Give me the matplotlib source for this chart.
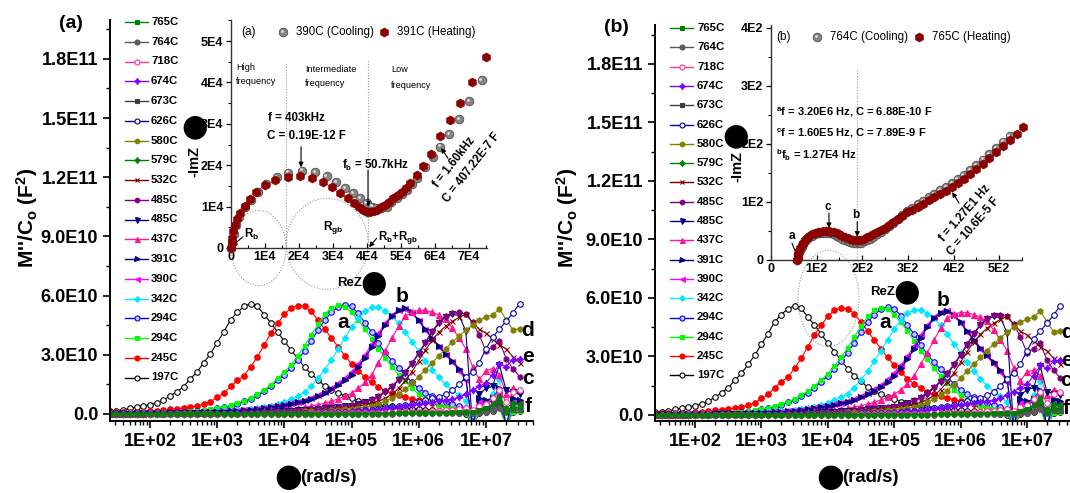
import numpy as np
import matplotlib
matplotlib.use("Agg")
import matplotlib.pyplot as plt
from matplotlib.patches import Ellipse
from matplotlib.lines import Line2D
from matplotlib.transforms import offset_copy
from matplotlib.font_manager import FontProperties, findfont
from matplotlib.ticker import FixedLocator, LogLocator, NullFormatter


def font_ok(name):
    try:
        findfont(FontProperties(family=name), fallback_to_default=False)
        return True
    except Exception:
        return False


HAS_NARROW = font_ok("Liberation Sans Narrow")
BASE = ["Liberation Sans", "DejaVu Sans"]
NARROW = (["Liberation Sans Narrow"] if HAS_NARROW else []) + BASE
NK = 1.0 if HAS_NARROW else 0.84
plt.rcParams["font.family"] = BASE
plt.rcParams["mathtext.default"] = "regular"

# ---------------- data: main plot (M''/Co in units of 1E10 vs log10 omega) -------------
log_w = [1.4, 1.5, 1.6, 1.7, 1.8, 1.9,
         2.0, 2.1, 2.2, 2.3, 2.4, 2.5, 2.6, 2.7, 2.8, 2.9,
         3.0, 3.1, 3.2, 3.3, 3.4, 3.5, 3.6, 3.7, 3.8, 3.9,
         4.0, 4.1, 4.2, 4.3, 4.4, 4.5, 4.6, 4.7, 4.8, 4.9,
         5.0, 5.1, 5.2, 5.3, 5.4, 5.5, 5.6, 5.7, 5.8, 5.9,
         6.0, 6.1, 6.2, 6.3, 6.4, 6.5, 6.6, 6.7, 6.8, 6.9,
         7.0, 7.1, 7.2, 7.3, 7.4, 7.5]

m197 = [0.15, 0.17, 0.22, 0.28, 0.35, 0.42,
        0.48, 0.56, 0.70, 0.92, 1.12, 1.39, 1.78, 2.13, 2.60, 3.05,
        3.62, 4.17, 4.78, 5.15, 5.45, 5.60, 5.46, 5.03, 4.61, 4.15,
        3.68, 3.25, 2.80, 2.37, 2.02, 1.73, 1.42, 1.22, 1.05, 0.92,
        0.80, 0.68, 0.60, 0.52, 0.46, 0.42, 0.38, 0.34, 0.30, 0.27,
        0.25, 0.22, 0.20, 0.17, 0.14, 0.10, 0.06, 0.02, -0.6, 0.05,
        0.10, 0.15, 0.40, -0.6, 0.10, 0.15]
m245 = [0.08, 0.08, 0.09, 0.10, 0.11, 0.12,
        0.14, 0.16, 0.19, 0.23, 0.27, 0.31, 0.36, 0.42, 0.50, 0.62,
        0.85, 1.05, 1.40, 1.70, 1.95, 2.40, 2.90, 3.50, 4.10, 4.60,
        5.05, 5.38, 5.48, 5.45, 5.20, 4.75, 4.30, 3.85, 3.40, 2.95,
        2.55, 2.20, 1.85, 1.60, 1.38, 1.18, 1.06, 0.95, 0.85, 0.78,
        0.70, 0.62, 0.54, 0.46, 0.38, 0.30, 0.20, 0.08, -0.6, 0.10,
        0.20, 0.30, 0.45, -0.6, 0.20, 0.30]
m294b = [0.03, 0.03, 0.04, 0.04, 0.05, 0.05,
         0.06, 0.06, 0.07, 0.08, 0.09, 0.10, 0.12, 0.14, 0.17, 0.21,
         0.28, 0.34, 0.42, 0.52, 0.64, 0.78, 0.95, 1.15, 1.40, 1.70,
         2.00, 2.35, 2.75, 3.20, 3.70, 4.25, 4.75, 5.15, 5.42, 5.54,
         5.45, 5.10, 4.60, 4.15, 3.60, 3.10, 2.70, 2.35, 1.95, 1.60,
         1.30, 1.08, 0.90, 0.75, 0.62, 0.50, 0.40, 0.30, -0.6, 0.15,
         0.25, 0.35, 0.60, -0.6, 0.25, 0.30]
m294g = [0.03, 0.03, 0.04, 0.04, 0.05, 0.05,
         0.06, 0.07, 0.08, 0.09, 0.10, 0.11, 0.13, 0.16, 0.19, 0.23,
         0.30, 0.36, 0.44, 0.55, 0.68, 0.82, 1.00, 1.22, 1.48, 1.80,
         2.12, 2.50, 2.95, 3.45, 4.00, 4.55, 5.05, 5.38, 5.50, 5.42,
         5.15, 4.75, 4.30, 3.80, 3.30, 2.85, 2.40, 2.00, 1.65, 1.30,
         1.00, 0.78, 0.60, 0.46, 0.36, 0.28, 0.20, 0.12, -0.6, 0.10,
         0.15, 0.20, 0.30, -0.6, 0.10, 0.15]
m342 = [0.02, 0.02, 0.02, 0.03, 0.03, 0.03,
        0.03, 0.04, 0.04, 0.05, 0.05, 0.06, 0.07, 0.08, 0.09, 0.10,
        0.12, 0.14, 0.16, 0.19, 0.22, 0.26, 0.30, 0.36, 0.43, 0.52,
        0.63, 0.75, 0.90, 1.10, 1.40, 1.80, 2.25, 2.75, 3.30, 3.85,
        4.40, 4.85, 5.22, 5.40, 5.40, 5.20, 4.95, 4.60, 4.15, 3.65,
        3.20, 2.70, 2.25, 1.85, 1.50, 1.20, 0.95, 0.65, -0.6, 0.30,
        0.50, 1.00, 1.75, -0.6, 0.40, 0.30]
m390 = [0.02, 0.02, 0.02, 0.02, 0.03, 0.03,
        0.03, 0.03, 0.04, 0.04, 0.05, 0.05, 0.06, 0.07, 0.08, 0.09,
        0.10, 0.12, 0.14, 0.16, 0.19, 0.22, 0.26, 0.30, 0.35, 0.40,
        0.47, 0.55, 0.63, 0.72, 0.83, 0.96, 1.12, 1.32, 1.55, 1.82,
        2.15, 2.55, 3.00, 3.55, 4.10, 4.62, 5.02, 5.28, 5.32, 5.10,
        4.70, 4.25, 3.80, 3.40, 3.00, 2.62, 2.20, 1.70, -0.6, 0.60,
        0.55, 0.65, 1.00, -0.6, 0.60, 0.50]
m391 = [0.02, 0.02, 0.02, 0.02, 0.03, 0.03,
        0.03, 0.03, 0.04, 0.04, 0.05, 0.05, 0.06, 0.07, 0.08, 0.09,
        0.10, 0.12, 0.14, 0.16, 0.19, 0.22, 0.26, 0.30, 0.35, 0.40,
        0.46, 0.53, 0.60, 0.68, 0.78, 0.90, 1.05, 1.25, 1.45, 1.70,
        2.00, 2.40, 2.85, 3.40, 3.95, 4.50, 4.95, 5.25, 5.35, 5.15,
        4.75, 4.30, 3.85, 3.45, 3.05, 2.70, 2.30, 1.85, -0.6, 0.80,
        0.70, 0.80, 1.30, -0.6, 0.80, 0.70]
m437 = [0.02, 0.02, 0.02, 0.02, 0.02, 0.02,
        0.03, 0.03, 0.03, 0.03, 0.04, 0.04, 0.04, 0.05, 0.05, 0.06,
        0.07, 0.08, 0.09, 0.10, 0.11, 0.12, 0.14, 0.16, 0.18, 0.20,
        0.22, 0.25, 0.29, 0.34, 0.40, 0.47, 0.55, 0.65, 0.77, 0.90,
        1.05, 1.30, 1.60, 2.00, 2.60, 3.20, 3.85, 4.45, 4.95, 5.18,
        5.25, 5.25, 5.15, 5.02, 4.80, 4.35, 3.85, 3.30, 2.40, 1.75,
        2.20, 2.30, 2.00, 1.00, 1.30, 1.20]
m485p = [0.02, 0.02, 0.02, 0.02, 0.02, 0.02,
         0.02, 0.02, 0.03, 0.03, 0.03, 0.03, 0.04, 0.04, 0.04, 0.05,
         0.05, 0.06, 0.06, 0.07, 0.08, 0.09, 0.10, 0.11, 0.12, 0.14,
         0.15, 0.17, 0.19, 0.21, 0.23, 0.26, 0.29, 0.32, 0.36, 0.40,
         0.45, 0.52, 0.62, 0.75, 0.92, 1.15, 1.42, 1.75, 2.15, 2.60,
         3.10, 3.65, 4.20, 4.65, 4.98, 5.12, 5.15, 5.05, 4.65, 4.00,
         3.20, 3.40, 3.70, 2.80, 2.30, 1.90]
m485n = [0.02, 0.02, 0.02, 0.02, 0.02, 0.02,
         0.02, 0.02, 0.02, 0.03, 0.03, 0.03, 0.03, 0.04, 0.04, 0.04,
         0.05, 0.05, 0.06, 0.06, 0.07, 0.08, 0.09, 0.10, 0.11, 0.13,
         0.14, 0.16, 0.18, 0.20, 0.22, 0.25, 0.28, 0.31, 0.34, 0.38,
         0.42, 0.50, 0.60, 0.72, 0.88, 1.10, 1.38, 1.70, 2.10, 2.55,
         3.05, 3.60, 4.15, 4.60, 4.92, 5.05, 5.00, 4.20, -0.6, 1.00,
         1.30, 1.40, 2.50, 1.20, 1.10, 1.00]
m532 = [0.02, 0.02, 0.02, 0.02, 0.02, 0.02,
        0.02, 0.02, 0.02, 0.03, 0.03, 0.03, 0.03, 0.04, 0.04, 0.04,
        0.05, 0.05, 0.06, 0.06, 0.07, 0.08, 0.08, 0.09, 0.10, 0.11,
        0.12, 0.13, 0.15, 0.16, 0.18, 0.20, 0.22, 0.25, 0.28, 0.31,
        0.35, 0.40, 0.46, 0.54, 0.65, 0.80, 1.00, 1.30, 1.70, 2.15,
        2.70, 3.25, 3.75, 4.15, 4.45, 4.70, 4.90, 5.05, 4.65, 4.30,
        4.10, 3.80, 3.50, 3.30, 2.90, 2.60]
m579 = [0.01, 0.01, 0.01, 0.01, 0.01, 0.01,
        0.01, 0.01, 0.01, 0.01, 0.01, 0.01, 0.01, 0.01, 0.01, 0.01,
        0.01, 0.01, 0.01, 0.01, 0.01, 0.01, 0.01, 0.01, 0.01, 0.01,
        0.02, 0.02, 0.02, 0.02, 0.02, 0.02, 0.02, 0.02, 0.02, 0.02,
        0.02, 0.02, 0.03, 0.03, 0.03, 0.03, 0.03, 0.04, 0.04, 0.04,
        0.05, 0.06, 0.07, 0.08, 0.09, 0.10, 0.12, 0.15, 0.10, 0.25,
        0.35, 0.45, 0.60, 0.30, 0.55, 0.50]
m580 = [0.02, 0.02, 0.02, 0.02, 0.02, 0.02,
        0.02, 0.02, 0.02, 0.02, 0.03, 0.03, 0.03, 0.03, 0.03, 0.04,
        0.04, 0.04, 0.05, 0.05, 0.06, 0.06, 0.07, 0.08, 0.08, 0.09,
        0.10, 0.11, 0.12, 0.13, 0.14, 0.16, 0.17, 0.19, 0.21, 0.23,
        0.26, 0.30, 0.35, 0.42, 0.52, 0.65, 0.82, 1.02, 1.25, 1.55,
        1.90, 2.25, 2.60, 2.95, 3.30, 3.65, 3.95, 4.25, 4.52, 4.75,
        4.92, 5.00, 5.34, 4.78, 4.27, 4.32]
m626 = [0.01, 0.01, 0.01, 0.01, 0.01, 0.01,
        0.01, 0.01, 0.01, 0.02, 0.02, 0.02, 0.02, 0.02, 0.02, 0.02,
        0.03, 0.03, 0.03, 0.03, 0.03, 0.04, 0.04, 0.04, 0.05, 0.05,
        0.05, 0.06, 0.06, 0.07, 0.07, 0.08, 0.08, 0.09, 0.10, 0.11,
        0.12, 0.15, 0.18, 0.22, 0.26, 0.30, 0.35, 0.40, 0.46, 0.52,
        0.60, 0.70, 0.80, 0.88, 1.00, 1.20, 1.50, 1.85, 2.15, 2.60,
        3.30, 3.90, 4.30, 4.70, 5.12, 5.60]
m673 = [0.01, 0.01, 0.01, 0.01, 0.01, 0.01,
        0.01, 0.01, 0.01, 0.01, 0.01, 0.01, 0.01, 0.01, 0.01, 0.01,
        0.01, 0.01, 0.01, 0.01, 0.01, 0.01, 0.01, 0.01, 0.01, 0.01,
        0.01, 0.01, 0.01, 0.01, 0.01, 0.01, 0.01, 0.01, 0.02, 0.02,
        0.02, 0.02, 0.02, 0.02, 0.02, 0.03, 0.03, 0.03, 0.03, 0.04,
        0.04, 0.05, 0.05, 0.06, 0.07, 0.08, 0.09, 0.10, 0.05, 0.12,
        0.15, 0.20, 0.40, 0.10, 0.20, 0.20]
m674 = [0.01, 0.01, 0.01, 0.01, 0.01, 0.01,
        0.01, 0.01, 0.01, 0.01, 0.01, 0.01, 0.02, 0.02, 0.02, 0.02,
        0.02, 0.02, 0.02, 0.03, 0.03, 0.03, 0.03, 0.04, 0.04, 0.04,
        0.05, 0.05, 0.06, 0.06, 0.07, 0.08, 0.09, 0.10, 0.11, 0.12,
        0.14, 0.16, 0.18, 0.20, 0.22, 0.25, 0.30, 0.35, 0.40, 0.45,
        0.50, 0.55, 0.60, 0.65, 0.70, 0.75, 0.85, 1.00, 1.20, 1.40,
        1.57, 2.00, 2.55, 2.40, 2.75, 2.80]
m718 = [0.01, 0.01, 0.01, 0.01, 0.01, 0.01,
        0.01, 0.01, 0.01, 0.01, 0.01, 0.01, 0.01, 0.01, 0.01, 0.01,
        0.01, 0.01, 0.01, 0.01, 0.01, 0.01, 0.02, 0.02, 0.02, 0.02,
        0.02, 0.02, 0.02, 0.02, 0.03, 0.03, 0.03, 0.03, 0.03, 0.04,
        0.04, 0.04, 0.05, 0.05, 0.06, 0.06, 0.07, 0.08, 0.09, 0.10,
        0.11, 0.12, 0.14, 0.16, 0.18, 0.20, 0.24, 0.30, 0.20, 0.40,
        0.50, 0.80, 1.20, 0.60, 1.10, 1.20]
m764 = [0.01, 0.01, 0.01, 0.01, 0.01, 0.01,
        0.01, 0.01, 0.01, 0.01, 0.01, 0.01, 0.01, 0.01, 0.01, 0.01,
        0.01, 0.01, 0.01, 0.01, 0.01, 0.01, 0.01, 0.01, 0.01, 0.01,
        0.01, 0.01, 0.01, 0.01, 0.01, 0.01, 0.01, 0.01, 0.01, 0.01,
        0.02, 0.02, 0.02, 0.02, 0.02, 0.02, 0.02, 0.03, 0.03, 0.03,
        0.03, 0.04, 0.04, 0.05, 0.05, 0.06, 0.07, 0.08, 0.04, 0.10,
        0.12, 0.18, 0.30, 0.10, 0.25, 0.25]
m765 = [0.01, 0.01, 0.01, 0.01, 0.01, 0.01,
        0.01, 0.01, 0.01, 0.01, 0.01, 0.01, 0.01, 0.01, 0.01, 0.01,
        0.01, 0.01, 0.01, 0.01, 0.01, 0.01, 0.01, 0.01, 0.01, 0.01,
        0.01, 0.01, 0.01, 0.01, 0.01, 0.01, 0.01, 0.01, 0.01, 0.02,
        0.02, 0.02, 0.02, 0.02, 0.02, 0.02, 0.03, 0.03, 0.03, 0.03,
        0.04, 0.04, 0.05, 0.06, 0.07, 0.08, 0.10, 0.12, 0.08, 0.20,
        0.30, 0.50, 0.85, 0.10, 0.30, 0.36]

y_ticks = [0, 3, 6, 9, 12, 15, 18]
y_tick_labels = ["0.0", "3.0E10", "6.0E10", "9.0E10", "1.2E11", "1.5E11", "1.8E11"]
x_ticks = [1e2, 1e3, 1e4, 1e5, 1e6, 1e7]
x_tick_labels = ["1E+02", "1E+03", "1E+04", "1E+05", "1E+06", "1E+07"]

# ---------------- data: inset (a) Nyquist, units of 1E4 ohm -------------
cool_a_re = [0.00, 0.03, 0.08, 0.15, 0.25, 0.40, 0.58, 0.78, 1.02, 1.34, 1.69, 2.08,
             2.47, 2.81, 3.10, 3.35, 3.60, 3.79, 3.99, 4.14, 4.25, 4.40, 4.58, 4.72,
             4.87, 5.02, 5.17, 5.32, 5.46, 5.70, 5.95, 6.15, 6.42, 6.70, 7.01, 7.37]
cool_a_im = [0.00, 0.15, 0.35, 0.55, 0.75, 0.98, 1.16, 1.36, 1.54, 1.72, 1.82, 1.87,
             1.83, 1.74, 1.60, 1.44, 1.32, 1.20, 1.08, 1.00, 0.97, 0.97, 1.00, 1.10,
             1.20, 1.30, 1.40, 1.54, 1.68, 1.96, 2.20, 2.45, 2.75, 3.12, 3.55, 4.06]
heat_a_re = [0.00, 0.02, 0.04, 0.07, 0.11, 0.17, 0.26, 0.40, 0.56, 0.75, 1.00, 1.29,
             1.69, 2.03, 2.37, 2.71, 2.96, 3.20, 3.45, 3.62, 3.76, 3.89, 4.00, 4.10,
             4.20, 4.30, 4.42, 4.53, 4.65, 4.77, 4.90, 5.02, 5.14, 5.26, 5.46, 5.66,
             5.87, 6.15, 6.44, 6.75, 7.10, 7.50]
heat_a_im = [0.00, 0.12, 0.25, 0.40, 0.55, 0.70, 0.85, 1.02, 1.18, 1.36, 1.52, 1.64,
             1.72, 1.74, 1.68, 1.60, 1.48, 1.34, 1.20, 1.08, 0.99, 0.92, 0.88, 0.87,
             0.89, 0.93, 0.98, 1.04, 1.12, 1.20, 1.28, 1.36, 1.46, 1.56, 1.76, 1.98,
             2.28, 2.70, 3.09, 3.51, 4.02, 4.62]

# ---------------- data: inset (b) Nyquist, units of 1E2 ohm -------------
heat_b_re = [0.58, 0.59, 0.60, 0.62, 0.64, 0.67, 0.70, 0.74, 0.79, 0.84, 0.90, 0.96,
             1.02, 1.08, 1.14, 1.20, 1.26, 1.32, 1.38, 1.44, 1.50, 1.56, 1.62, 1.68,
             1.74, 1.80, 1.86, 1.92, 1.98, 2.04, 2.10, 2.17, 2.24, 2.32, 2.40, 2.49,
             2.58, 2.68, 2.78, 2.88, 2.99, 3.10, 3.22, 3.34, 3.46, 3.58, 3.70, 3.83,
             3.96, 4.09, 4.22, 4.36, 4.50, 4.64, 4.78, 4.93, 5.08, 5.23, 5.38, 5.53]
heat_b_im = [0.00, 0.05, 0.10, 0.15, 0.20, 0.25, 0.30, 0.34, 0.38, 0.41, 0.44, 0.46,
             0.48, 0.49, 0.50, 0.50, 0.50, 0.49, 0.48, 0.46, 0.44, 0.42, 0.40, 0.38,
             0.36, 0.35, 0.34, 0.34, 0.35, 0.37, 0.39, 0.42, 0.45, 0.48, 0.52, 0.56,
             0.60, 0.65, 0.70, 0.76, 0.82, 0.87, 0.92, 0.97, 1.03, 1.09, 1.14, 1.19,
             1.25, 1.33, 1.40, 1.48, 1.57, 1.66, 1.76, 1.86, 1.97, 2.07, 2.17, 2.29]
cool_b_re = [0.58, 0.59, 0.60, 0.62, 0.64, 0.67, 0.70, 0.74, 0.79, 0.84, 0.90, 0.96,
             1.02, 1.08, 1.14, 1.20, 1.26, 1.32, 1.38, 1.44, 1.50, 1.56, 1.62, 1.68,
             1.74, 1.80, 1.86, 1.92, 1.98, 2.04, 2.10, 2.17, 2.24, 2.32, 2.40, 2.49,
             2.58, 2.68, 2.78, 2.88, 2.99, 3.10, 3.22, 3.34, 3.46, 3.58, 3.70, 3.83,
             3.96, 4.09, 4.22, 4.36, 4.50, 4.64, 4.78, 4.93, 5.08, 5.23]
cool_b_im = [0.00, 0.04, 0.08, 0.13, 0.18, 0.23, 0.28, 0.32, 0.36, 0.39, 0.42, 0.44,
             0.46, 0.47, 0.47, 0.47, 0.47, 0.46, 0.44, 0.42, 0.40, 0.37, 0.35, 0.33,
             0.31, 0.30, 0.29, 0.29, 0.30, 0.32, 0.34, 0.37, 0.40, 0.44, 0.48, 0.53,
             0.58, 0.64, 0.70, 0.77, 0.84, 0.90, 0.96, 1.02, 1.08, 1.14, 1.20, 1.26,
             1.32, 1.40, 1.47, 1.55, 1.64, 1.73, 1.83, 1.93, 2.04, 2.14]

# ---------------- styles -------------
series = [
    ("765C", m765, "#008000", "s", "#008000"),
    ("764C", m764, "#5a5a5a", "o", "#5a5a5a"),
    ("718C", m718, "#ff3399", "o", "white"),
    ("674C", m674, "#8000ff", (4, 1, 0), "#8000ff"),
    ("673C", m673, "#404040", "s", "#404040"),
    ("626C", m626, "#0000a0", "o", "white"),
    ("580C", m580, "#808000", "h", "#808000"),
    ("579C", m579, "#008000", (4, 1, 0), "#008000"),
    ("532C", m532, "#800000", "x", "#800000"),
    ("485C", m485p, "#800080", "h", "#800080"),
    ("485C", m485n, "#000080", "v", "#000080"),
    ("437C", m437, "#ff1493", "^", "#ff1493"),
    ("391C", m391, "#000080", ">", "#000080"),
    ("390C", m390, "#ff00ff", "<", "#ff00ff"),
    ("342C", m342, "#00e8ff", "D", "#00e8ff"),
    ("294C", m294b, "#0000ff", "o", "#c8c8ff"),
    ("294C", m294g, "#00ff00", "s", "#00ff00"),
    ("245C", m245, "#ff0000", "o", "#ff0000"),
    ("197C", m197, "#000000", "o", "white"),
]
draw_order = [18, 17, 15, 16, 14, 13, 12, 11, 10, 9, 8, 7, 6, 5, 4, 3, 2, 1, 0]

W, H = 1070, 493
fig = plt.figure(figsize=(W / 100, H / 100), dpi=100)
fig.patch.set_facecolor("white")
omega = 10.0 ** np.array(log_w)


def rect(l, t, r, b):
    return [l / W, 1 - b / H, (r - l) / W, (b - t) / H]


def ftext(px, py, s, **kw):
    return fig.text(px / W, 1 - py / H, s, **kw)


def fmark(px, py, **kw):
    fig.add_artist(Line2D([px / W], [1 - py / H], transform=fig.transFigure, **kw))


def msize(mk):
    if mk == "D":
        return 3.2
    if mk == "x":
        return 3.6
    if mk == "s":
        return 3.4
    if isinstance(mk, tuple):
        return 5.0
    return 4.0


FP_TICK = FontProperties(family=NARROW, weight="bold", size=15.5 * NK)
FP_LAB = FontProperties(family=NARROW, weight="bold", size=16 * NK)


def main_panel(rpx, xl, yl, leg, ylab_x, xlab_x, letters):
    ax = fig.add_axes(rect(*rpx))
    ax.set_facecolor("none")
    for k, i in enumerate(draw_order):
        lab, vals, col, mk, mfc = series[i]
        ax.plot(omega, vals, color=col, lw=0.8, marker=mk, ms=msize(mk),
                mfc=mfc, mec=col, mew=0.8, zorder=2 + k * 0.01)
    ax.set_xscale("log")
    ax.set_xlim(*xl)
    ax.set_ylim(*yl)
    ax.set_yticks(y_ticks)
    ax.set_yticklabels(y_tick_labels)
    ax.yaxis.set_minor_locator(FixedLocator([1.5, 4.5, 7.5, 10.5, 13.5, 16.5, 19.5]))
    ax.set_xticks(x_ticks)
    ax.set_xticklabels(x_tick_labels)
    ax.xaxis.set_minor_locator(LogLocator(base=10, subs=np.arange(2, 10)))
    ax.xaxis.set_minor_formatter(NullFormatter())
    for t in ax.get_xticklabels() + ax.get_yticklabels():
        t.set_fontproperties(FP_TICK)
    ax.tick_params(which="major", direction="out", length=5, width=1.2)
    ax.tick_params(which="minor", direction="out", length=3, width=1.0)
    for s in ("top", "right"):
        ax.spines[s].set_visible(False)
    for s in ("left", "bottom"):
        ax.spines[s].set_linewidth(1.4)
    # legend
    lx0, lx1, tx, y0, dy = leg
    for j, (lab, vals, col, mk, mfc) in enumerate(series):
        y = y0 + j * dy
        fig.add_artist(Line2D([lx0 / W, lx1 / W], [1 - y / H, 1 - y / H],
                              transform=fig.transFigure, color=col, lw=1.0))
        fmark((lx0 + lx1) / 2, y, marker=mk, ms=msize(mk) * 0.9, color=col,
              mfc=mfc, mec=col, mew=0.8)
        ftext(tx, y, lab, fontsize=8.2, fontweight="bold", va="center", ha="left")
    # axis labels
    ftext(ylab_x, 218, "M''/C$_o$ (F$^2$)", rotation=90, ha="center", va="center",
          fontsize=15, fontweight="bold")
    ftext(xlab_x, 478, "\u25cf", ha="center", va="center", fontsize=23,
          family=["DejaVu Sans"])
    ftext(xlab_x + 12, 478, "(rad/s)", ha="left", va="center", fontproperties=FP_LAB)
    for (s, px, py) in letters:
        ftext(px, py, s, ha="center", va="center", fontsize=15, fontweight="bold")
    return ax


def inset_common(axi, xl, yl, xlab, ylab):
    axi.set_facecolor("none")
    axi.set_xlim(*xl)
    axi.set_ylim(*yl)
    axi.set_xticks(range(len(xlab)))
    axi.set_xticklabels(xlab)
    axi.set_yticks(range(len(ylab)))
    axi.set_yticklabels(ylab)
    axi.xaxis.set_minor_locator(FixedLocator([i + 0.5 for i in range(len(xlab))]))
    axi.yaxis.set_minor_locator(FixedLocator([i + 0.5 for i in range(len(ylab))]))
    for t in axi.get_xticklabels() + axi.get_yticklabels():
        t.set_fontweight("bold")
        t.set_fontsize(9)
    axi.tick_params(axis="y", which="major", direction="out", length=3.5, width=0.9, pad=2)
    axi.tick_params(axis="y", which="minor", direction="out", length=2, width=0.8)
    axi.tick_params(axis="x", which="major", direction="in", length=3.5, width=0.9, pad=2)
    axi.tick_params(axis="x", which="minor", direction="in", length=2, width=0.8)
    for s in ("top", "right"):
        axi.spines[s].set_visible(False)
    for s in ("left", "bottom"):
        axi.spines[s].set_linewidth(1.0)
        axi.spines[s].set_color("#333333")


ARW = dict(arrowstyle="-|>", color="k", lw=0.8, mutation_scale=7, shrinkA=0, shrinkB=0)
DOT = (0, (1, 1.5))
GRAYM = dict(ls="none", marker="o", ms=6.2, mfc="#858585", mec="#505050", mew=0.6)
HILITE = dict(ls="none", marker="o", ms=2.0, mfc="#e0e0e0", mec="none")
REDM = dict(ls="none", marker="h", ms=6.6, mfc="#8b0000", mec="#8b0000", mew=0.4)


def gray_points(axi, xs, ys):
    axi.plot(xs, ys, clip_on=False, zorder=3, **GRAYM)
    tr = offset_copy(axi.transData, fig=fig, x=-1.2, y=1.2, units="dots")
    axi.plot(xs, ys, transform=tr, clip_on=False, zorder=3.1, **HILITE)


# ================= panel (a) =================
axa = main_panel((110, 20, 533, 421), (10 ** 1.405, 10 ** 7.70), (-0.355, 19.97),
                 (125, 148, 151, 22, 19.75), 27, 288,
                 [("a", 343, 322), ("b", 402, 297), ("d", 528, 330),
                  ("e", 528, 357), ("c", 528, 378), ("f", 528, 407)])
ftext(71, 24, "(a)", ha="center", va="center", fontsize=14, fontweight="bold")

ia = fig.add_axes(rect(231, 20, 487, 248))
inset_common(ia, (0, 7.53), (0, 5.51), ["0", "1E4", "2E4", "3E4", "4E4", "5E4", "6E4", "7E4"],
             ["0", "1E4", "2E4", "3E4", "4E4", "5E4"])
ia.vlines([1.62], 0, 4.49, colors="#9a9a9a", linestyles=[DOT], lw=0.8)
ia.vlines([4.03], 0, 4.54, colors="#9a9a9a", linestyles=[DOT], lw=0.8)
ia.add_patch(Ellipse((0.81, 0.0), 1.62, 1.82, fill=False, ls=DOT, ec="#9a9a9a", lw=0.8, clip_on=False))
ia.add_patch(Ellipse((2.83, 0.1), 2.41, 2.2, fill=False, ls=DOT, ec="#9a9a9a", lw=0.8, clip_on=False))
gray_points(ia, cool_a_re, cool_a_im)
ia.plot(heat_a_re, heat_a_im, clip_on=False, zorder=4, **REDM)
ia.annotate("", xy=(2.06, 1.95), xytext=(2.06, 2.45), arrowprops=ARW, annotation_clip=False)
ia.annotate("", xy=(4.03, 1.0), xytext=(4.03, 1.88), arrowprops=ARW, annotation_clip=False)
ia.annotate("", xy=(0.03, 0.05), xytext=(0.35, 0.27), arrowprops=ARW, annotation_clip=False)
ia.annotate("", xy=(4.06, 0.02), xytext=(4.29, 0.24), arrowprops=ARW, annotation_clip=False)
ia.annotate("", xy=(6.18, 2.42), xytext=(6.38, 2.17), arrowprops=ARW, annotation_clip=False)

ftext(241, 32, "(a)", ha="left", va="center", fontsize=8.5)
fmark(283, 32, **GRAYM)
fmark(282, 31, **HILITE)
ftext(296, 32, "390C (Cooling)", ha="left", va="center", fontsize=8.3)
fmark(384, 32, **REDM)
ftext(397, 32, "391C (Heating)", ha="left", va="center", fontsize=8.3)
ftext(236, 67, "High", ha="left", va="center", fontsize=6.6)
ftext(236, 82, "frequency", ha="left", va="center", fontsize=6.6)
ftext(305, 69, "Intermediate", ha="left", va="center", fontsize=6.6)
ftext(305, 84, "frequency", ha="left", va="center", fontsize=6.6)
ftext(391, 70, "Low", ha="left", va="center", fontsize=6.6)
ftext(391, 85, "frequency", ha="left", va="center", fontsize=6.6)
ftext(268, 118, "f = 403kHz", ha="left", va="center", fontsize=8.3, fontweight="bold")
ftext(267, 136, "C = 0.19E-12 F", ha="left", va="center", fontsize=8.3, fontweight="bold")
ftext(342, 165, "f$_b$ = 50.7kHz", ha="left", va="center", fontsize=8.3, fontweight="bold")
ftext(244, 234, "R$_b$", ha="left", va="center", fontsize=8.5, fontweight="bold")
ftext(323, 228, "R$_{gb}$", ha="left", va="center", fontsize=8.5, fontweight="bold")
ftext(378, 237, "R$_b$+R$_{gb}$", ha="left", va="center", fontsize=8.3, fontweight="bold")
ftext(436, 186, "f = 1.60kHz", ha="left", va="center", fontsize=8.3, fontweight="bold",
      rotation=52, rotation_mode="anchor")
ftext(446, 201, "C = 407.22E-7 F", ha="left", va="center", fontsize=8.3, fontweight="bold",
      rotation=52, rotation_mode="anchor")
ftext(194, 161, "-ImZ", rotation=90, ha="center", va="center", fontsize=10.5, fontweight="bold")
ftext(195, 127, "\u25cf", ha="center", va="center", fontsize=22, family=["DejaVu Sans"])
ftext(350, 283, "ReZ", ha="center", va="center", fontsize=9.5, fontweight="bold")
ftext(374, 283, "\u25cf", ha="center", va="center", fontsize=22, family=["DejaVu Sans"])

# ================= panel (b) =================
axb = main_panel((655, 25, 1070, 421), (10 ** 1.398, 10 ** 7.648), (-0.31, 20.0),
                 (670, 693, 697, 28, 19.3), 567, 830,
                 [("a", 885, 322), ("b", 943, 300), ("d", 1067, 332),
                  ("e", 1067, 360), ("c", 1066, 380), ("f", 1066, 408)])
ftext(616, 27, "(b)", ha="center", va="center", fontsize=14, fontweight="bold")

ib = fig.add_axes(rect(771, 25, 1022, 260))
inset_common(ib, (0, 5.50), (0, 4.05), ["0", "1E2", "2E2", "3E2", "4E2", "5E2"],
             ["0", "1E2", "2E2", "3E2", "4E2"])
ib.vlines([1.89], 0, 3.28, colors="#9a9a9a", linestyles=[DOT], lw=0.8)
ib.add_patch(Ellipse((1.26, -0.66), 1.34, 1.66, fill=False, ls=DOT, ec="#9a9a9a", lw=0.8, clip_on=False))
gray_points(ib, cool_b_re, cool_b_im)
ib.plot(heat_b_re, heat_b_im, clip_on=False, zorder=4, **REDM)
ib.annotate("", xy=(0.59, 0.03), xytext=(0.46, 0.29), arrowprops=ARW, annotation_clip=False)
ib.annotate("", xy=(1.27, 0.55), xytext=(1.27, 0.81), arrowprops=ARW, annotation_clip=False)
ib.annotate("", xy=(1.89, 0.40), xytext=(1.89, 0.66), arrowprops=ARW, annotation_clip=False)
ib.annotate("", xy=(3.97, 1.17), xytext=(4.12, 0.98), arrowprops=ARW, annotation_clip=False)

ftext(776, 37, "(b)", ha="left", va="center", fontsize=8.5)
fmark(817, 37, **GRAYM)
fmark(816, 36, **HILITE)
ftext(830, 37, "764C (Cooling)", ha="left", va="center", fontsize=8.3)
fmark(919, 37, **REDM)
ftext(932, 37, "765C (Heating)", ha="left", va="center", fontsize=8.3)
ftext(776, 112, "$^a$f = 3.20E6 Hz, C = 6.88E-10 F", ha="left", va="center", fontsize=8, fontweight="bold")
ftext(776, 133, "$^c$f = 1.60E5 Hz, C = 7.89E-9 F", ha="left", va="center", fontsize=8, fontweight="bold")
ftext(776, 155, "$^b$f$_b$ = 1.27E4 Hz", ha="left", va="center", fontsize=8, fontweight="bold")
ftext(792, 236, "a", ha="center", va="center", fontsize=8.5, fontweight="bold")
ftext(828, 207, "c", ha="center", va="center", fontsize=8.5, fontweight="bold")
ftext(856, 215, "b", ha="center", va="center", fontsize=8.5, fontweight="bold")
ftext(942, 240, "f = 1.27E1 Hz", ha="left", va="center", fontsize=8.3, fontweight="bold",
      rotation=49, rotation_mode="anchor")
ftext(950, 254, "C = 10.6E-5 F", ha="left", va="center", fontsize=8.3, fontweight="bold",
      rotation=49, rotation_mode="anchor")
ftext(737, 166, "-ImZ", rotation=90, ha="center", va="center", fontsize=10.5, fontweight="bold")
ftext(736, 136, "\u25cf", ha="center", va="center", fontsize=22, family=["DejaVu Sans"])
ftext(883, 292, "ReZ", ha="center", va="center", fontsize=9.5, fontweight="bold")
ftext(907, 292, "\u25cf", ha="center", va="center", fontsize=22, family=["DejaVu Sans"])

fig.savefig("out.png", dpi=100, facecolor="white")
